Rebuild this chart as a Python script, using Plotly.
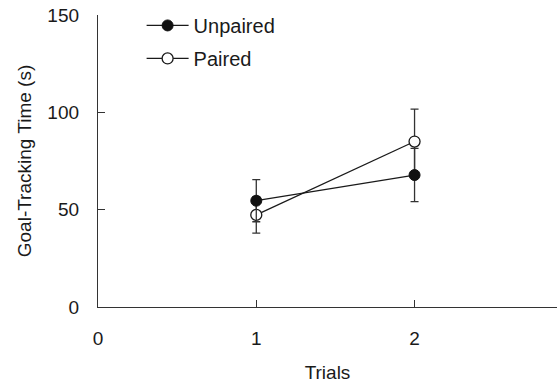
import plotly.graph_objects as go

trials = [1, 2]
unpaired = [54.6, 67.8]
unpaired_err = [10.8, 13.7]
paired = [47.3, 85.0]
paired_err = [9.4, 16.6]

x_ticks = [0, 1, 2]
y_ticks = [0, 50, 100, 150]

fig = go.Figure()
fig.add_trace(go.Scatter(
    x=trials, y=paired, name="Paired", mode="lines+markers", legendgroup="p", legendrank=2,
    line=dict(color="#1a1a1a", width=1.3),
    marker=dict(symbol="circle", size=11, color="white", line=dict(color="#1a1a1a", width=1.3)),
    error_y=dict(type="data", array=paired_err, visible=True, color="#333333", thickness=1.3, width=4),
))
fig.add_trace(go.Scatter(
    x=trials, y=unpaired, name="Unpaired", mode="lines+markers", legendgroup="u", legendrank=1,
    line=dict(color="#1a1a1a", width=1.3),
    marker=dict(symbol="circle", size=11, color="#111111", line=dict(color="#111111", width=1)),
    error_y=dict(type="data", array=unpaired_err, visible=True, color="#333333", thickness=1.3, width=4),
))

fam = "Liberation Sans, Arial, sans-serif"
fig.update_layout(
    width=557, height=387,
    margin=dict(l=98, r=0, t=15, b=80, autoexpand=False),
    plot_bgcolor="white", paper_bgcolor="white",
    font=dict(family=fam, size=19, color="#1a1a1a"),
    showlegend=True,
    legend=dict(x=0.095, y=1.031, xanchor="left", yanchor="top",
                traceorder="grouped",
                font=dict(size=20, family=fam, color="#1a1a1a"), itemwidth=42,
                bgcolor="rgba(0,0,0,0)", tracegroupgap=4),
    xaxis=dict(range=[0, 2.9], tickvals=x_ticks, ticktext=[str(v) for v in x_ticks],
               showline=True, linecolor="#333333", linewidth=1.3, ticks="inside", ticklen=7,
               tickcolor="#333333", tickwidth=1.3, showgrid=False, zeroline=False,
               ticklabelstandoff=14, tickfont=dict(size=19), ticklabeloverflow="allow",
               title=dict(text="Trials", font=dict(size=19), standoff=17)),
    yaxis=dict(range=[0, 150], tickvals=y_ticks, ticktext=[str(v) for v in y_ticks],
               showline=True, linecolor="#333333", linewidth=1.3, ticks="inside", ticklen=7,
               tickcolor="#333333", tickwidth=1.3, showgrid=False, zeroline=False,
               ticklabelstandoff=14, tickfont=dict(size=19), ticklabeloverflow="allow",
               title=dict(text="Goal-Tracking Time (s)", font=dict(size=19), standoff=10)),
)
fig.write_html("out.html", post_script="document.body.style.margin='0';",
               config={"displayModeBar": False})
